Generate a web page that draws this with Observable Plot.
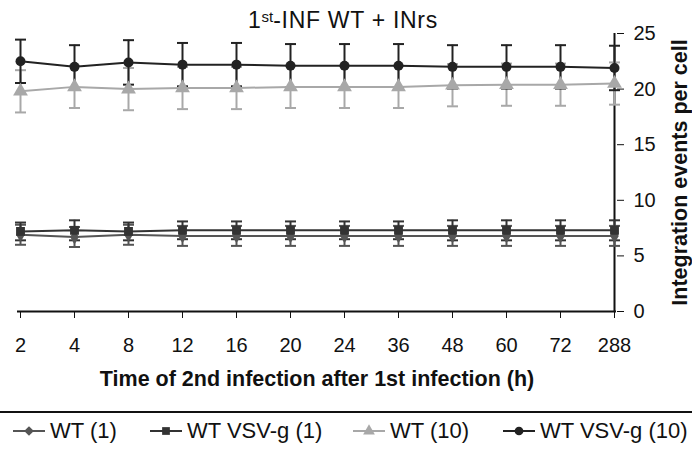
<!DOCTYPE html>
<html><head><meta charset="utf-8">
<script src="https://cdn.jsdelivr.net/npm/d3@7"></script>
<script src="https://cdn.jsdelivr.net/npm/@observablehq/plot@0.6"></script>
<style>
body{margin:0;background:#fff;font-family:"Liberation Sans",Arial,sans-serif;}
#wrap{position:relative;width:692px;height:450px;overflow:hidden;}
#title{position:absolute;top:7px;left:-3px;width:692px;text-align:center;font-size:23px;letter-spacing:0.7px;line-height:26px;color:#111;}
#title sup{font-size:15px;vertical-align:6px;line-height:0;letter-spacing:0;}
#chart{position:absolute;top:0;left:0;}
#sep{position:absolute;top:411px;left:0;width:692px;height:2px;background:#111;}
#legend{position:absolute;top:418px;left:0;width:692px;height:28px;}
.item{position:absolute;top:0;height:26px;display:flex;align-items:center;font-size:22px;color:#111;white-space:nowrap;}
.item svg{margin-right:3px;}
</style></head>
<body>
<div id="wrap">
<div id="title">1<sup>st</sup>-INF WT + INrs</div>
<div id="chart"></div>
<div id="sep"></div>
<div id="legend"></div>
</div>
<script>
const times = ["2","4","8","12","16","20","24","36","48","60","72","288"];
const seriesNames = ["WT (1)","WT VSV-g (1)","WT (10)","WT VSV-g (10)"];
const wt1 = [6.9,6.7,6.9,6.8,6.8,6.8,6.8,6.8,6.8,6.8,6.8,6.8];
const wt1Err = [0.9,0.9,0.9,0.9,0.9,0.9,0.9,0.9,0.9,0.9,0.9,0.9];
const vsv1 = [7.2,7.3,7.2,7.3,7.3,7.3,7.3,7.3,7.3,7.3,7.3,7.3];
const vsv1Err = [0.8,0.9,0.8,0.8,0.8,0.8,0.8,0.8,0.9,0.9,0.9,0.9];
const wt10 = [19.8,20.2,20.0,20.1,20.1,20.2,20.2,20.2,20.35,20.4,20.4,20.5];
const wt10Err = [1.9,1.9,1.9,1.9,1.9,1.9,1.9,1.9,1.9,1.9,1.9,1.9];
const vsv10 = [22.5,22.0,22.4,22.2,22.2,22.1,22.1,22.1,22.0,22.0,22.0,21.9];
const vsv10Err = [1.95,1.95,2.0,1.95,1.95,1.95,1.95,1.95,1.95,1.95,1.95,2.0];
const yTicks = [0,5,10,15,20,25];

const styles = {
  "WT (1)": {color:"#555555", symbol:"diamond", r:4.5, sw:2},
  "WT VSV-g (1)": {color:"#333333", symbol:"square", r:5, sw:2},
  "WT (10)": {color:"#a8a8a8", symbol:"triangle", r:5.5, sw:2},
  "WT VSV-g (10)": {color:"#222222", symbol:"circle", r:5, sw:2}
};
const capSymbol = {draw(ctx, size){ ctx.moveTo(-5.5,0); ctx.lineTo(5.5,0); }};
const vals = [wt1, vsv1, wt10, vsv10];
const errs = [wt1Err, vsv1Err, wt10Err, vsv10Err];
const data = [];
seriesNames.forEach((s, k) => times.forEach((t, i) => data.push({series:s, time:t, value:vals[k][i], lo:vals[k][i]-errs[k][i], hi:vals[k][i]+errs[k][i]})));

const marks = [];
for (const s of seriesNames) {
  const st = styles[s];
  const d = data.filter(r => r.series === s);
  marks.push(Plot.ruleX(d, {x:"time", y1:"lo", y2:"hi", stroke:st.color, strokeWidth:2}));
  marks.push(Plot.dot(d, {x:"time", y:"lo", symbol:capSymbol, stroke:st.color, fill:"none", strokeWidth:2}));
  marks.push(Plot.dot(d, {x:"time", y:"hi", symbol:capSymbol, stroke:st.color, fill:"none", strokeWidth:2}));
}
for (const s of seriesNames) {
  const st = styles[s];
  const d = data.filter(r => r.series === s);
  marks.push(Plot.line(d, {x:"time", y:"value", stroke:st.color, strokeWidth:st.sw}));
  marks.push(Plot.dot(d, {x:"time", y:"value", symbol:st.symbol, r:st.r, fill:st.color, stroke:"none"}));
}

const chart = Plot.plot({
  width: 692,
  height: 400,
  marginLeft: 17,
  marginRight: 76,
  marginTop: 33,
  marginBottom: 89,
  style: {fontFamily:"'Liberation Sans', Arial, sans-serif", fontSize:"20px", color:"#111", background:"transparent"},
  x: {type:"point", domain: times, padding:0},
  y: {domain:[0,25]},
  marks: [
    Plot.axisX({ticks: times, tickSize:7, tickPadding:19, fontSize:20, label:"Time of 2nd infection after 1st infection (h)", labelAnchor:"center", labelOffset:74}),
    Plot.axisY({anchor:"right", ticks: yTicks, tickSize:7, tickPadding:10, fontSize:20, label:"Integration events per cell", labelAnchor:"center", labelOffset:70}),
    Plot.ruleY([0], {stroke:"#111", strokeWidth:2}),
    Plot.ruleX([times[times.length-1]], {y1:0, y2:25, stroke:"#111", strokeWidth:2}),
    ...marks
  ]
});
const sel = d3.select(chart);
sel.selectAll("[aria-label='x-axis label'] text").style("font-weight","bold").style("font-size","21.5px").text("Time of 2nd infection after 1st infection (h)");
sel.selectAll("[aria-label='y-axis label'] text").style("font-weight","bold").style("font-size","21.5px").text("Integration events per cell");
sel.selectAll("[aria-label='x-axis tick label'] text, [aria-label='y-axis tick label'] text").style("font-size","20px");
document.getElementById("chart").appendChild(chart);

const legendPos = [13, 150, 353, 503];
const leg = document.getElementById("legend");
seriesNames.forEach((s, k) => {
  const st = styles[s];
  const div = document.createElement("div");
  div.className = "item";
  div.style.left = legendPos[k] + "px";
  const svg = d3.create("svg").attr("width", 34).attr("height", 26);
  svg.append("line").attr("x1",0).attr("x2",32).attr("y1",13).attr("y2",13).attr("stroke",st.color).attr("stroke-width",2);
  svg.append("path").attr("transform","translate(16,13)").attr("fill",st.color)
    .attr("d", d3.symbol(({circle:d3.symbolCircle,square:d3.symbolSquare,triangle:d3.symbolTriangle,diamond:d3.symbolDiamond2})[st.symbol], 60)());
  div.appendChild(svg.node());
  const span = document.createElement("span");
  span.textContent = s;
  div.appendChild(span);
  leg.appendChild(div);
});
</script>
</body></html>
